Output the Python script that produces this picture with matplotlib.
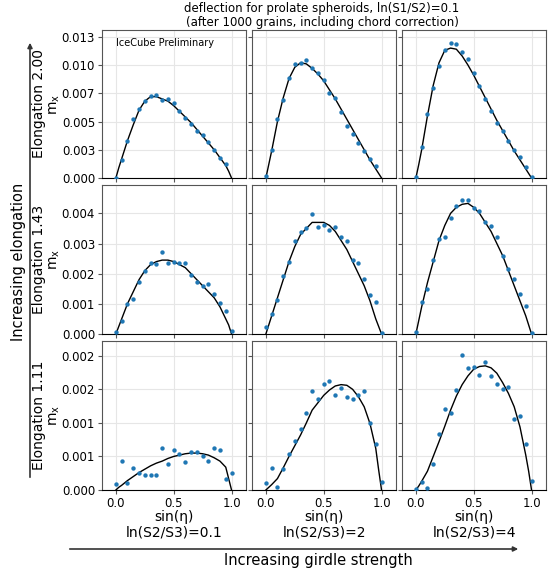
import numpy as np
import matplotlib
matplotlib.use("Agg")
import matplotlib.pyplot as plt

# sample positions sin(eta) of the simulated points
x_pts = [0.0, 0.05, 0.10, 0.15, 0.20, 0.25, 0.30, 0.35, 0.40, 0.45, 0.50,
         0.55, 0.60, 0.65, 0.70, 0.75, 0.80, 0.85, 0.90, 0.95, 1.0]
x_fit = [0.0, 0.025, 0.05, 0.10, 0.15, 0.20, 0.25, 0.30, 0.35, 0.40, 0.45, 0.50,
         0.55, 0.60, 0.65, 0.70, 0.75, 0.80, 0.85, 0.90, 0.95, 0.975, 1.0]

nan = np.nan
# rows: elongation 2.00, 1.43, 1.11 ; cols: ln(S2/S3) = 0.1, 2, 4
pts_e200_g01 = [0.0, 0.00157, 0.00325, 0.0052, 0.00609, 0.0068, 0.00724, 0.00733, 0.00694, 0.00703, 0.00662,
                0.00597, 0.00529, 0.00482, 0.00417, 0.00378, 0.00316, 0.00248, 0.00177, 0.00121, nan]
pts_e200_g2 = [0.00015, 0.0025, 0.0052, 0.0069, 0.00887, 0.01005, 0.01017, 0.01046, 0.00978, 0.00928, 0.00866,
               0.00754, 0.00712, 0.00585, 0.00458, 0.0039, 0.00313, 0.00236, 0.00165, 0.00103, nan]
pts_e200_g4 = [0.0001, 0.00272, 0.0057, 0.00795, 0.0099, 0.01135, 0.01194, 0.01182, 0.01114, 0.01052, 0.00925,
               0.00813, 0.00703, 0.00594, 0.00488, 0.00414, 0.00328, 0.00245, 0.00183, 0.00095, 0.00006]
pts_e143_g01 = [0.00007, 0.00044, 0.00098, 0.00116, 0.00174, 0.00208, 0.00236, 0.00233, 0.00273, 0.00236, 0.00239,
                0.00236, 0.00236, 0.00194, 0.00173, 0.0016, 0.00165, 0.00132, 0.00104, 0.00077, 0.00011]
pts_e143_g2 = [0.00023, 0.00067, 0.00113, 0.00191, 0.00239, 0.00309, 0.00337, 0.0035, 0.00397, 0.00356, 0.00363,
               0.00344, 0.00355, 0.00321, 0.00307, 0.00244, 0.00237, 0.00181, 0.0013, 0.00105, 0.00003]
pts_e143_g4 = [0.00005, 0.00107, 0.0015, 0.00245, 0.00316, 0.00322, 0.00385, 0.00426, 0.00445, 0.00443, 0.00418,
               0.00407, 0.00371, 0.00358, 0.0032, 0.00259, 0.00217, 0.00182, 0.00131, 0.00094, 0.00003]
pts_e111_g01 = [0.00009, 0.00043, 0.0001, 0.00033, 0.00026, 0.00022, 0.00022, 0.00023, 0.00062, 0.00038, 0.00059,
                0.00054, 0.00042, 0.00056, 0.00056, 0.0005, 0.00043, 0.00063, 0.0006, 0.00016, 0.00026]
pts_e111_g2 = [0.0001, 0.00033, 0.00005, 0.00031, 0.00054, 0.00073, 0.00091, 0.00115, 0.00147, 0.00135, 0.00158,
               0.00162, 0.00142, 0.00152, 0.00138, 0.00135, 0.00141, 0.00148, 0.001, 0.00068, 0.00012]
pts_e111_g4 = [0.00001, 0.00012, 0.00003, 0.00038, 0.00084, 0.0012, 0.00115, 0.00149, 0.00201, 0.00182, 0.00183,
               0.00171, 0.0019, 0.0017, 0.00158, 0.0015, 0.00153, 0.00106, 0.00111, 0.00068, 0.00014]

fit_e200_g01 = [0.0, 0.0009, 0.0017, 0.0033, 0.0047, 0.0060, 0.0068, 0.0072, 0.0072, 0.0070, 0.0068, 0.0064,
                0.0059, 0.0054, 0.0049, 0.0043, 0.0037, 0.0031, 0.0025, 0.0018, 0.0011, 0.0006, 0.0]
fit_e200_g2 = [0.0, 0.0012, 0.0024, 0.0050, 0.0071, 0.0088, 0.0098, 0.0102, 0.0101, 0.0097, 0.0092, 0.0086,
               0.0078, 0.0070, 0.0061, 0.0052, 0.0043, 0.0034, 0.0025, 0.0016, 0.0008, 0.0004, 0.0]
fit_e200_g4 = [0.0, 0.0012, 0.0025, 0.0055, 0.0082, 0.0102, 0.0113, 0.0115, 0.0114, 0.0108, 0.0100, 0.0091,
               0.0081, 0.0071, 0.0061, 0.0051, 0.0042, 0.0033, 0.0024, 0.0016, 0.0008, 0.0004, 0.0]
fit_e143_g01 = [0.0, 0.00025, 0.0005, 0.0010, 0.0014, 0.0018, 0.0021, 0.0023, 0.0024, 0.00245, 0.00245, 0.0024,
                0.0023, 0.0022, 0.0020, 0.0018, 0.0016, 0.0014, 0.0012, 0.0009, 0.0005, 0.0003, 0.0]
fit_e143_g2 = [0.0, 0.0003, 0.0006, 0.0012, 0.0018, 0.0024, 0.0029, 0.0033, 0.0035, 0.0037, 0.0037, 0.0037,
               0.0036, 0.0034, 0.0031, 0.0028, 0.0024, 0.0020, 0.0016, 0.0011, 0.0005, 0.00025, 0.0]
fit_e143_g4 = [0.0, 0.00045, 0.0009, 0.0017, 0.0024, 0.0031, 0.0036, 0.0040, 0.0042, 0.0043, 0.00433, 0.0042,
               0.0040, 0.0037, 0.0034, 0.0030, 0.0026, 0.0021, 0.0016, 0.0011, 0.0006, 0.0003, 0.0]
fit_e111_g01 = [0.0, 0.00004, 0.00007, 0.00014, 0.0002, 0.00026, 0.00031, 0.00036, 0.0004, 0.00043, 0.00047, 0.0005,
                0.00052, 0.00054, 0.00055, 0.00055, 0.00054, 0.00052, 0.00048, 0.00043, 0.00034, 0.00017, 0.0]
fit_e111_g2 = [0.0, 0.00004, 0.00008, 0.00017, 0.00033, 0.0005, 0.00066, 0.00082, 0.001, 0.00119, 0.0013, 0.00141,
               0.00149, 0.00155, 0.00157, 0.00156, 0.0015, 0.00139, 0.00124, 0.00099, 0.00062, 0.0003, 0.0]
fit_e111_g4 = [0.0, 0.00006, 0.00013, 0.00028, 0.0005, 0.00072, 0.00095, 0.00119, 0.0014, 0.00157, 0.0017, 0.0018,
               0.00184, 0.00185, 0.00182, 0.00174, 0.0016, 0.00144, 0.00124, 0.00094, 0.00052, 0.00028, 0.0]

points = [[pts_e200_g01, pts_e200_g2, pts_e200_g4],
          [pts_e143_g01, pts_e143_g2, pts_e143_g4],
          [pts_e111_g01, pts_e111_g2, pts_e111_g4]]
fits = [[fit_e200_g01, fit_e200_g2, fit_e200_g4],
        [fit_e143_g01, fit_e143_g2, fit_e143_g4],
        [fit_e111_g01, fit_e111_g2, fit_e111_g4]]

elongations = ["2.00", "1.43", "1.11"]
girdles = ["0.1", "2", "4"]
row_ylim = [0.0131, 0.00494, 0.00222]
row_yticks = [[0, 0.0025, 0.005, 0.0075, 0.01, 0.0125],
              [0, 0.001, 0.002, 0.003, 0.004],
              [0, 0.0005, 0.001, 0.0015, 0.002]]
row_yticklabels = [["0.000", "0.003", "0.005", "0.007", "0.010", "0.013"],
                   ["0.000", "0.001", "0.002", "0.003", "0.004"],
                   ["0.000", "0.001", "0.001", "0.002", "0.002"]]
xticks = [0.0, 0.5, 1.0]
xticklabels = ["0.0", "0.5", "1.0"]

W, H = 548, 574
fig = plt.figure(figsize=(W / 100, H / 100), dpi=100)

col_px = [(102, 246), (252, 396), (402, 546)]
row_px = [(30, 178), (185, 334), (341, 490)]

for r in range(3):
    for c in range(3):
        x0, x1 = col_px[c]
        y0, y1 = row_px[r]
        ax = fig.add_axes([x0 / W, 1 - y1 / H, (x1 - x0) / W, (y1 - y0) / H])
        ax.grid(True, color="#e6e6e6", linewidth=0.8)
        ax.set_axisbelow(True)
        ax.plot(x_fit, fits[r][c], color="k", linewidth=1.0, zorder=2)
        ax.scatter(x_pts, points[r][c], s=10, color="#1f77b4", zorder=3, linewidths=0)
        ax.set_xlim(-0.12, 1.125)
        ax.set_ylim(0, row_ylim[r])
        ax.set_xticks(xticks)
        ax.set_yticks(row_yticks[r])
        for side in ["left", "right", "top"]:
            ax.spines[side].set_color("#555555")
        ax.spines["bottom"].set_color("k")
        ax.tick_params(labelsize=8.5, length=3, width=0.8, color="#555555", pad=2)
        if c == 0:
            ax.set_yticklabels(row_yticklabels[r])
            ax.set_ylabel("Elongation " + elongations[r] + "\nm$_\\mathregular{x}$",
                          fontsize=10, linespacing=1.05)
            ax.yaxis.set_label_coords(-0.28, 0.5)
        else:
            ax.set_yticklabels([])
        if r == 2:
            ax.set_xticklabels(xticklabels)
            ax.set_xlabel("sin(η)\nln(S2/S3)=" + girdles[c], fontsize=10, labelpad=0,
                          linespacing=1.1)
        else:
            ax.set_xticklabels([])
        if r == 0 and c == 0:
            ax.text(0.1, 0.91, "IceCube Preliminary", transform=ax.transAxes,
                    fontsize=7, va="center")

fig.text(322 / W, 1 - 2 / H, "deflection for prolate spheroids, ln(S1/S2)=0.1\n"
         "(after 1000 grains, including chord correction)",
         ha="center", va="top", fontsize=8.5, linespacing=1.1)

# direction arrows
fig.add_artist(matplotlib.patches.FancyArrowPatch(
    (30 / W, 1 - 480 / H), (30 / W, 1 - 40 / H), transform=fig.transFigure,
    arrowstyle="-|>", mutation_scale=7, color="#333333", linewidth=1.2))
fig.text(19 / W, 1 - 262 / H, "Increasing elongation", rotation=90,
         ha="center", va="center", fontsize=10.5)
fig.add_artist(matplotlib.patches.FancyArrowPatch(
    (67 / W, 1 - 549 / H), (521 / W, 1 - 549 / H), transform=fig.transFigure,
    arrowstyle="-|>", mutation_scale=7, color="#333333", linewidth=1.2))
fig.text(318 / W, 1 - 560 / H, "Increasing girdle strength",
         ha="center", va="center", fontsize=10.5)

fig.savefig("out.png", dpi=100)
